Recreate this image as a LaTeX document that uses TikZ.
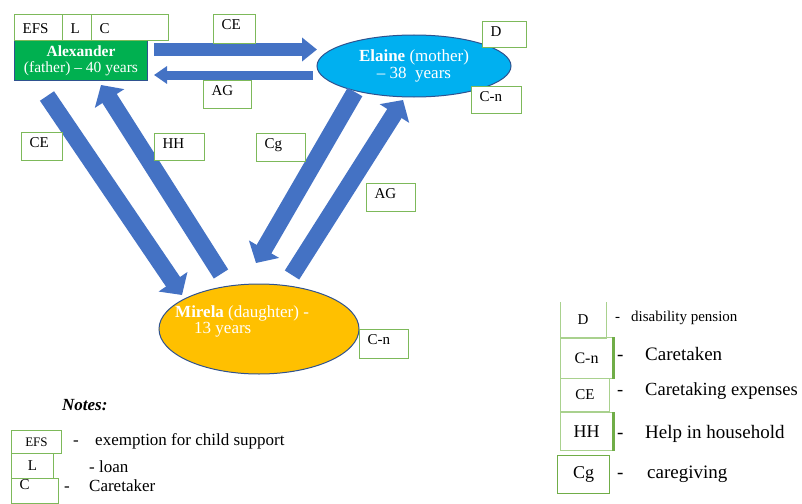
\documentclass[tikz,border=0pt]{standalone}
\usepackage{fontspec}
\setmainfont{Liberation Serif}
\usetikzlibrary{arrows.meta,positioning,shapes.geometric}
\definecolor{arrblue}{HTML}{4472C4}
\definecolor{edgeblue}{HTML}{2F528F}
\definecolor{famgreen}{HTML}{00B050}
\definecolor{momblue}{HTML}{00B0F0}
\definecolor{kidgold}{HTML}{FFC000}
\definecolor{tagline}{HTML}{7DB95A}
\definecolor{keyline}{HTML}{A9D18E}
\definecolor{keyedge}{HTML}{70AD47}
\newcommand{\fs}[1]{\fontsize{#1}{#1}\selectfont}
\tikzset{
  person/.style ={draw=edgeblue, line width=1pt, text=white, align=center, inner sep=0pt},
  tag/.style 2 args={draw=tagline, line width=1.3pt, fill=white, anchor=north west, align=left,
      font=\fs{15}, inner xsep=8pt, inner ysep=4pt,
      /utils/exec={\pgfmathsetlengthmacro\tagw{#1-16}\pgfmathsetlengthmacro\tagd{#2-19}},
      text width=\tagw, text height=11pt, text depth=\tagd},
  key/.style 2 args={draw=keyline, line width=1pt, anchor=north west, inner sep=0pt,
      minimum width=#1pt, minimum height=#2pt},
  keytext/.style={anchor=base west, inner sep=0pt},
  flow/.style n args={3}{arrblue, line width=#1pt, -{Triangle[length=#2pt,width=#3pt]}},
}
\begin{document}
\begin{tikzpicture}[x=1pt, y=-1pt]
  \useasboundingbox (0,0) rectangle (802,503);

  % family members
  \node[person, fill=famgreen, anchor=north west, minimum width=133pt, minimum height=40pt,
        font=\fontsize{15.5}{16}\selectfont] (alex) at (14,40) {\textbf{Alexander}\\(father) – 40 years};
  \node[person, ellipse, fill=momblue, minimum width=194pt, minimum height=62pt,
        font=\fontsize{17}{17}\selectfont] (elaine) at (414,66) {\textbf{Elaine} (mother)\\– 38~ years};
  \node[person, ellipse, fill=kidgold, minimum width=200pt, minimum height=90pt] (mirela) at (259,329) {};
  \node[text=white, align=left, anchor=west, inner sep=0pt, font=\fontsize{17}{16}\selectfont]
        (mirelatxt) at (175,321) {\textbf{Mirela} (daughter) -\\\hspace*{19pt}13 years};

  % arrow ends
  \coordinate (a2e-s) at (154,49.5);  \coordinate (a2e-e) at (317,49.5);
  \coordinate (e2a-s) at (313,75);    \coordinate (e2a-e) at (154,75);
  \coordinate (a2m-s) at (47,96);     \coordinate (a2m-e) at (182,295);
  \coordinate (m2a-s) at (221,274);   \coordinate (m2a-e) at (101,85);
  \coordinate (e2m-s) at (355,92);    \coordinate (e2m-e) at (256,263);
  \coordinate (m2e-s) at (292,275);   \coordinate (m2e-e) at (403,100);

  \draw[flow={13}{15}{23}] (a2e-s) -- (a2e-e);
  \draw[flow={9}{13}{17}] (e2a-s) -- (e2a-e);
  \draw[flow={17}{16}{34}] (a2m-s) -- (a2m-e);
  \draw[flow={17}{16}{34}] (m2a-s) -- (m2a-e);
  \draw[flow={17}{16}{34}] (e2m-s) -- (e2m-e);
  \draw[flow={17}{16}{34}] (m2e-s) -- (m2e-e);

  % tags on the picture
  \node[tag={48}{26}, text height=15pt, text depth=3pt] (tefs) at (14,14) {EFS};
  \node[tag={29}{26}, text height=15pt, text depth=3pt] (tl) at (62,14) {L};
  \node[tag={77}{26}, text height=15pt, text depth=3pt] (tc) at (91,14) {C};
  \node[tag={42}{29}] (tce1) at (213,14) {CE};
  \node[tag={48}{28}] (tag1) at (203,80) {AG};
  \node[tag={44}{26}] (td) at (482,21) {D};
  \node[tag={50}{27}] (tcn1) at (471,86) {C-n};
  \node[tag={41}{28}] (tce2) at (21,132) {CE};
  \node[tag={50}{27}] (thh) at (154,133) {HH};
  \node[tag={49}{28}] (tcg) at (256,133) {Cg};
  \node[tag={49}{28}] (tag2) at (366,183) {AG};
  \node[tag={49}{29}] (tcn2) at (359,329) {C-n};

  % notes, left
  \node[keytext, font=\fs{17}\bfseries\itshape] (notes) at (62,410) {Notes:};
  \node[key={50}{23}, draw=tagline, font=\fs{13}] (kefs) at (11,430) {EFS};
  \node[key={42}{25}, draw=tagline, font=\fs{15}] (kl) at (11,453) {L};
  \node[tag={47}{25}, inner ysep=0pt, text depth=14pt] (kc) at (11,478) {C};
  \node[keytext, font=\fs{17}] (kefsd) at (73,445) {-};
  \node[keytext, font=\fs{17}] (kefst) at (95,445) {exemption for child support};
  \node[keytext, font=\fs{17}] (klt) at (89,472) {- loan};
  \node[keytext, font=\fs{17}] (kcd) at (64,491) {-};
  \node[keytext, font=\fs{17}] (kct) at (89,491) {Caretaker};

  % notes, right
  \node[key={45}{35}, draw=none, font=\fs{15}] (kd) at (560,302) {D};
  \draw[keyline, line width=1pt] (kd.north west) -- (kd.south west) -- (kd.south east) -- (kd.north east);
  \node[key={52}{41}, font=\fs{16}] (kcn) at (560,337) {C-n};
  \draw[keyedge, line width=3pt] (kcn.north east) -- (kcn.south east);
  \node[key={49}{33}, font=\fs{15}] (kce) at (560,378) {CE};
  \node[key={52}{38}, font=\fs{18}] (khh) at (560,412) {HH};
  \draw[keyedge, line width=3pt] (khh.north east) -- (khh.south east);
  \node[key={52}{38}, draw=keyedge, line width=1.3pt, font=\fs{18}] (kcg) at (557,455) {Cg};

  \node[keytext, font=\fs{15}] (kdd) at (615,321) {-};
  \node[keytext, font=\fs{15}] (kdt) at (631,321) {disability pension};
  \node[keytext, font=\fs{19}] (kcnd) at (617,360) {-};
  \node[keytext, font=\fs{19}] (kcnt) at (645,360) {Caretaken};
  \node[keytext, font=\fs{18.5}] (kced) at (617,395) {-};
  \node[keytext, font=\fs{18.5}] (kcet) at (645,395) {Caretaking expenses};
  \node[keytext, font=\fs{19}] (khhd) at (617,438) {-};
  \node[keytext, font=\fs{19}] (khht) at (645,438) {Help in household};
  \node[keytext, font=\fs{19}] (kcgd) at (617,478) {-};
  \node[keytext, font=\fs{19}] (kcgt) at (647,478) {caregiving};
\end{tikzpicture}
\end{document}
